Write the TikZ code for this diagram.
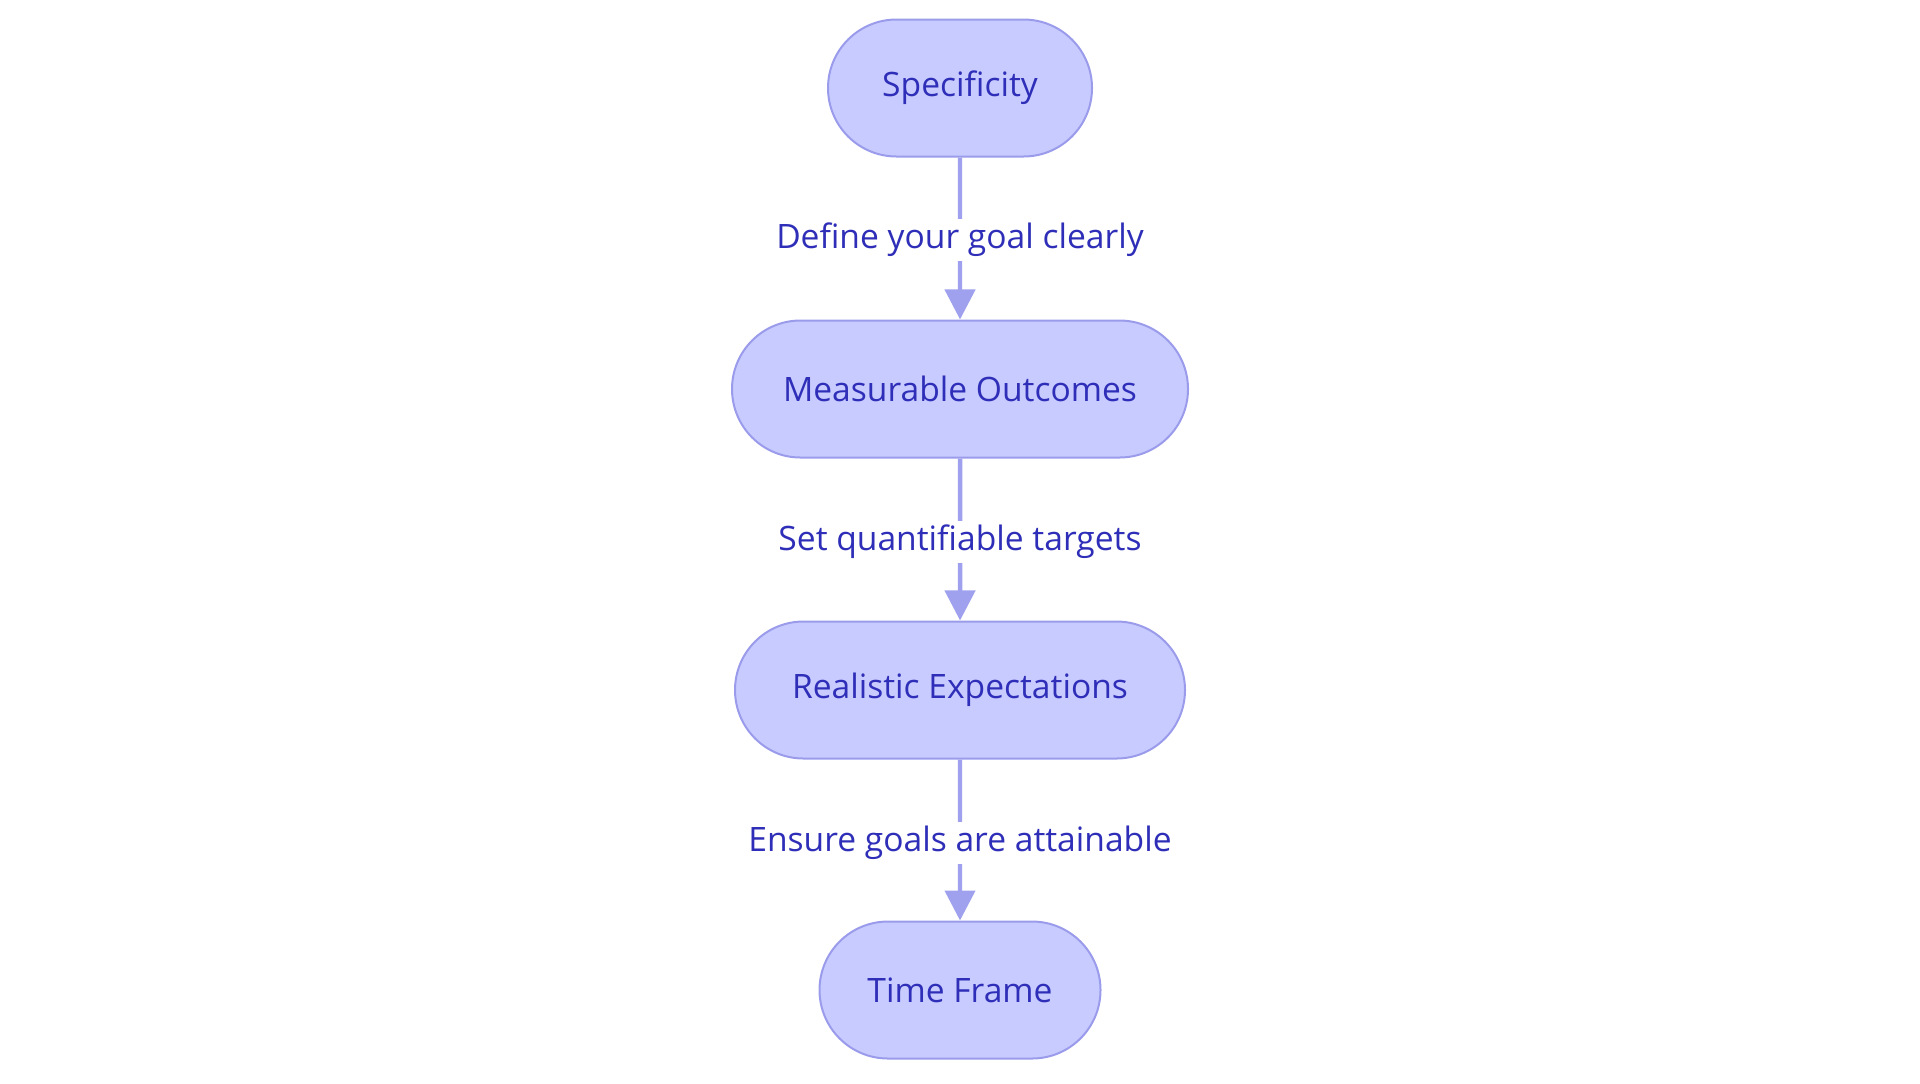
\documentclass[tikz,border=0pt]{standalone}
\usepackage{fontspec}
\setmainfont{Open Sans}
\usetikzlibrary{arrows.meta,shapes.misc}
\definecolor{nodefill}{HTML}{C8CBFF}
\definecolor{nodeline}{HTML}{9A9CEB}
\definecolor{txt}{HTML}{2E2EB8}
\definecolor{arr}{HTML}{9FA1EE}
\tikzset{
  stadium/.style={draw=nodeline, fill=nodefill, line width=1pt, rounded rectangle,
    minimum height=68.5pt, inner sep=0pt, text=txt, font=\fontsize{16.8}{20}\selectfont},
  lbl/.style={fill=white, text=txt, inner sep=2pt, font=\fontsize{16.8}{20}\selectfont},
  conn/.style={draw=arr, line width=2.2pt, -{Triangle[width=15pt,length=15pt]}}
}
\begin{document}
\begin{tikzpicture}[x=0.5pt,y=-0.5pt]
\useasboundingbox (0,0) rectangle (1920,1083);
\node[stadium, minimum width=132pt] (s) at (960,88) {Specificity};
\node[stadium, minimum width=228pt] (m) at (960,389) {Measurable Outcomes};
\node[stadium, minimum width=225pt] (r) at (960,690) {Realistic Expectations};
\node[stadium, minimum width=140.5pt] (t) at (960,990) {Time Frame};
\draw[conn] (s) -- (m);
\draw[conn] (m) -- (r);
\draw[conn] (r) -- (t);
\node[lbl] (l1) at (960,240) {Define your goal clearly};
\node[lbl] (l2) at (960,542) {Set quantifiable targets};
\node[lbl] (l3) at (960,843) {Ensure goals are attainable};
\end{tikzpicture}
\end{document}
